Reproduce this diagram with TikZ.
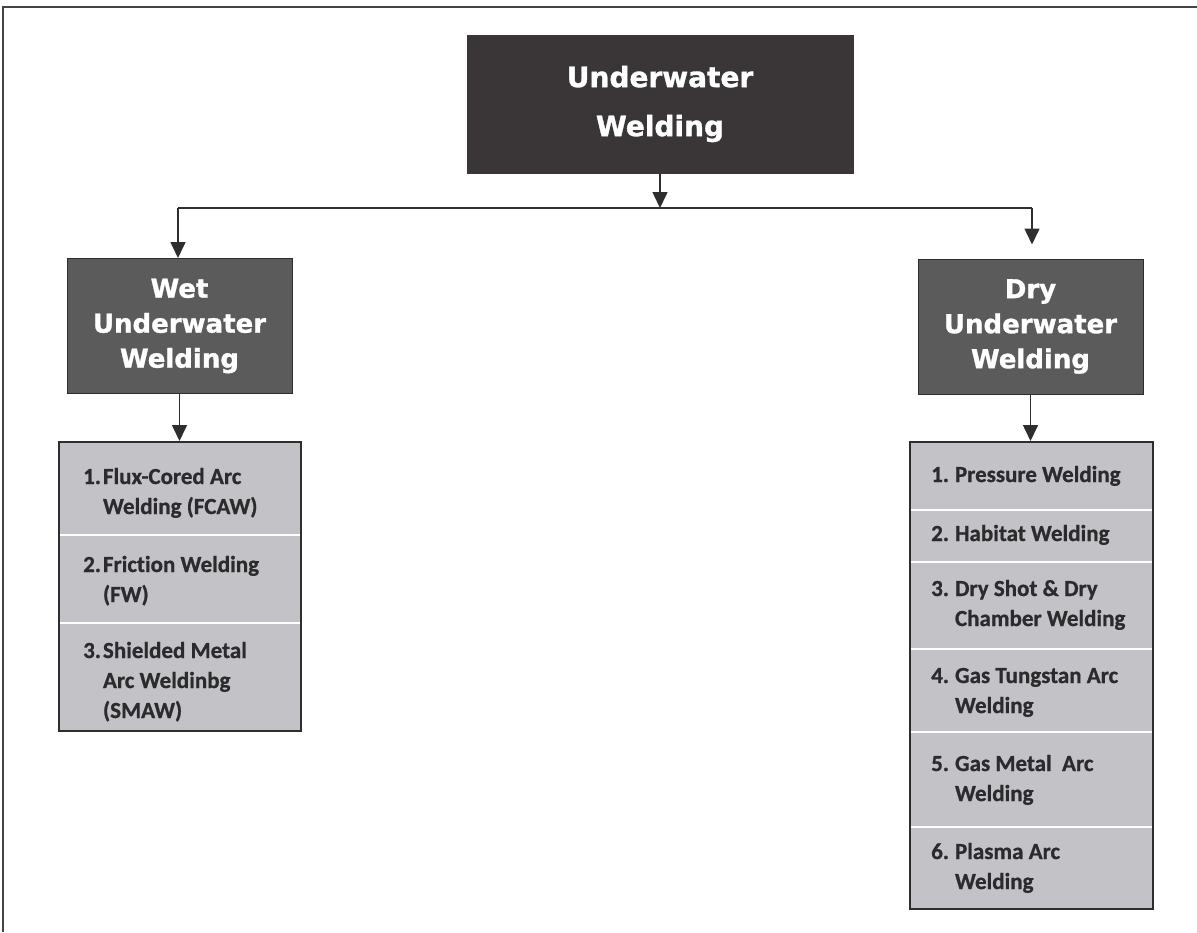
\documentclass[tikz,border=0pt]{standalone}
\usepackage{fontspec}
\setmainfont{DejaVu Sans}
\newfontfamily\headfont[BoldFeatures={FakeBold=1.2}]{DejaVu Sans}
\newfontfamily\listfont[Ligatures=NoCommon,BoldFeatures={FakeBold=0.8}]{Carlito}
\usetikzlibrary{arrows.meta}
\definecolor{topfill}{HTML}{3A3537}
\definecolor{midfill}{HTML}{5B5B5B}
\definecolor{listfill}{HTML}{C3C3C7}
\definecolor{listtext}{HTML}{2B2B2D}
\definecolor{framecol}{HTML}{444444}
\definecolor{linecol}{HTML}{2E2E2E}
\tikzset{
 topbox/.style={draw=topfill, fill=topfill, text=white, font=\headfont\fontsize{28}{49}\selectfont\bfseries, align=center, minimum width=386pt, minimum height=138pt, inner sep=0pt},
 midbox/.style={draw=linecol, line width=1pt, fill=midfill, text=white, font=\headfont\fontsize{26}{35}\selectfont\bfseries, align=center, minimum width=225pt, minimum height=135pt, inner sep=0pt},
 listbox/.style={draw=linecol, line width=2pt, fill=listfill, inner sep=0pt},
 itemtext/.style={anchor=west, inner sep=0pt, text=listtext, font=\listfont\fontsize{23}{30}\selectfont\bfseries},
 conn/.style={line width=1.6pt, draw=linecol, -{Triangle[width=15pt,length=16pt]}},
 plainline/.style={line width=1.6pt, draw=linecol},
 divider/.style={draw=white, line width=2.5pt},
 framestyle/.style={draw=framecol, line width=2.5pt},
}
\begin{document}
\begin{tikzpicture}[x=1pt,y=-1pt]
\useasboundingbox (0,0) rectangle (1197,932);
\draw[framestyle] (3,932) -- (3,7) -- (1197,7);

\node[topbox] (top) at (660,104) {Underwater\\Welding};
\node[midbox] (wet) at (179.5,326) {Wet\\Underwater\\Welding};
\node[midbox] (dry) at (1030.5,326.5) {Dry\\Underwater\\Welding};

\node[listbox, minimum width=242pt, minimum height=289pt] (wlist) at (180,586.5) {};
\node[listbox, minimum width=243pt, minimum height=467pt] (dlist) at (1031.5,675.5) {};

% dividers
\draw[divider] (60,535) -- (300,535);
\draw[divider] (60,623) -- (300,623);
\draw[divider] (911,510) -- (1152,510);
\draw[divider] (911,562) -- (1152,562);
\draw[divider] (911,649) -- (1152,649);
\draw[divider] (911,732) -- (1152,732);
\draw[divider] (911,827) -- (1152,827);

% connectors
\coordinate (hj) at (660,208);
\coordinate (lj) at (178,208);
\coordinate (rj) at (1032,208);
\draw[conn] (top.south) -- (hj);
\draw[plainline] (lj) -- (rj);
\draw[conn] (lj) -- (lj |- wet.north);
\draw[conn, shorten >=14pt] (rj) -- (rj |- dry.north);
\draw[conn] (wet.south) -- (wet.south |- wlist.north);
\draw[conn] (dry.south) -- (dry.south |- dlist.north);

% wet list items
\node[itemtext] (w1) at (83,493) {\begin{tabular}{@{}l@{\hspace{2pt}}l@{}}1.&Flux-Cored Arc\\&Welding (FCAW)\end{tabular}};
\node[itemtext] (w2) at (83,581) {\begin{tabular}{@{}l@{\hspace{2pt}}l@{}}2.&Friction Welding\\&(FW)\end{tabular}};
\node[itemtext] (w3) at (83,682) {\begin{tabular}{@{}l@{\hspace{2pt}}l@{}}3.&Shielded Metal\\&Arc Weldinbg\\&(SMAW)\end{tabular}};

% dry list items
\node[itemtext] (d1) at (931,476) {\begin{tabular}{@{}l@{\hspace{6pt}}l@{}}1.&Pressure Welding\end{tabular}};
\node[itemtext] (d2) at (931,535) {\begin{tabular}{@{}l@{\hspace{6pt}}l@{}}2.&Habitat Welding\end{tabular}};
\node[itemtext] (d3) at (931,605) {\begin{tabular}{@{}l@{\hspace{6pt}}l@{}}3.&Dry Shot \& Dry\\&Chamber Welding\end{tabular}};
\node[itemtext] (d4) at (931,692) {\begin{tabular}{@{}l@{\hspace{6pt}}l@{}}4.&Gas Tungstan Arc\\&Welding\end{tabular}};
\node[itemtext] (d5) at (931,780) {\begin{tabular}{@{}l@{\hspace{6pt}}l@{}}5.&Gas Metal\ \ Arc\\&Welding\end{tabular}};
\node[itemtext] (d6) at (931,868) {\begin{tabular}{@{}l@{\hspace{6pt}}l@{}}6.&Plasma Arc\\&Welding\end{tabular}};
\end{tikzpicture}
\end{document}
